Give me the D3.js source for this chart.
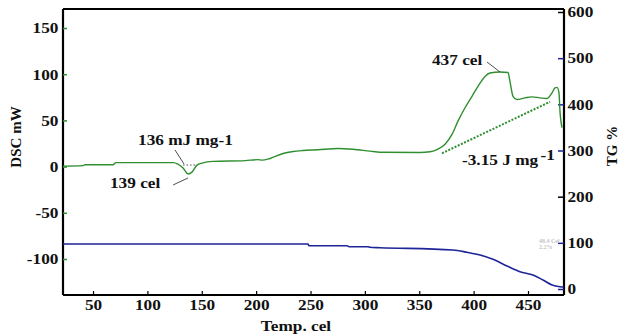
<!DOCTYPE html>
<html><head><meta charset="utf-8">
<script src="https://cdn.jsdelivr.net/npm/d3@7"></script>
<style>
html,body{margin:0;padding:0;background:#fff;}
svg{display:block;}
text{font-family:"Liberation Serif","Times New Roman",serif;font-weight:bold;fill:#111;}
</style></head>
<body><svg id="c" width="628" height="336"></svg>
<script>
// DSC curve (green): temperature (cel) and heat flow (mW)
const dscTemp = [22.4,40.8,42.6,68.4,71,123.6,128,132.8,137.4,141,145.6,150.2,160.3,190,201.7,205.4,212.8,224.7,233.9,243,256.9,275.3,289,304.7,313.9,350.7,359.9,367.2,373.7,380.1,385.6,392.1,398.5,404,410.5,415,424.3,431.6,433.4,436.2,439.9,447.2,453.7,461,467.5,472.1,474.8,476.7,478.5,479.4,481.3];
const dscVal  = [0.5,1,2,2,4.3,4.3,2.7,-1.6,-8,-6,1.6,3.8,5.6,6.5,7.5,7,8.8,14.2,16.3,17.4,18.3,19.6,18.8,16.7,15.6,15.3,16,18.8,24.2,34.9,49.2,63.7,76.1,86.9,97.6,101.3,102.4,101.9,92.3,76.1,72.6,74.4,75.5,74.4,73.7,79.8,85.2,85.8,79.8,60,42.2];
// TG curve (blue): temperature (cel) and mass (%)
const tgTemp = [22.4,247.7,248.6,283.6,285.4,302.9,304.7,313.9,381,393.9,405.9,417.8,430.7,442.6,454.6,463.8,472.1,479.4,483];
const tgVal  = [97.5,97.5,93.8,93.8,91.6,91.6,90.3,89.5,84.5,79.5,73.6,64.3,49.8,37.5,30.3,19.5,8.7,5,4.3];
// integration baseline of the exotherm
const baseTemp = [370.9,470.3];
const baseVal  = [14.4,70.2];
// tick labels
const xTicks  = [50,100,150,200,250,300,350,400,450];
const yLTicks = [-100,-50,0,50,100,150];
const yRTicks = [0,100,200,300,400,500,600];
const xTitle = "Temp. cel", yLTitle = "DSC mW", yRTitle = "TG %";

const svg = d3.select("#c");
const L=63, R=564, T=9, B=295;
const x  = d3.scaleLinear().domain([22.4,483.1]).range([L,R]);
const yL = d3.scaleLinear().domain([-139,170.6]).range([B,T]);
const yR = d3.scaleLinear().domain([-13,606.5]).range([B,T]);
const SX = 1.15;
const green="#2f8f2f", blue="#1e2598";

// frame top
svg.append("line").attr("x1",L).attr("x2",R).attr("y1",T).attr("y2",T).attr("stroke","#000").attr("stroke-width",2);

// axes
const gx = svg.append("g").attr("transform",`translate(0,${B})`)
  .call(d3.axisBottom(x).tickValues(xTicks).tickSizeInner(-4).tickSizeOuter(0).tickPadding(4).tickFormat(d=>String(d)));
const gl = svg.append("g").attr("transform",`translate(${L},0)`)
  .call(d3.axisLeft(yL).tickValues(yLTicks).tickSizeInner(-4).tickSizeOuter(0).tickPadding(4).tickFormat(d=>String(d)));
const gr = svg.append("g").attr("transform",`translate(${R},0)`)
  .call(d3.axisRight(yR).tickValues(yRTicks).tickSizeInner(-6).tickSizeOuter(0).tickPadding(3).tickFormat(d=>String(d)));
[gx,gl,gr].forEach(g=>{
  g.attr("font-family",null).attr("font-size",null);
  g.select(".domain").attr("stroke","#000").attr("stroke-width",2.2);
  g.selectAll("text").attr("font-size",15).attr("font-weight","bold")
    .attr("fill","#111").attr("transform",`scale(${SX},1)`);
});
gx.selectAll(".domain").attr("d",`M${L},0H${R}`);
gl.select(".domain").attr("d",`M0,${T}V${B}`);
gr.select(".domain").attr("d",`M0,${T}V${B}`);
gl.selectAll(".tick line").attr("stroke",green).attr("stroke-width",1.5);
gr.selectAll(".tick line").attr("stroke",d=>d===600||d===200?"#000":blue).attr("stroke-width",1.5);
gx.selectAll(".tick line").attr("stroke","#000").attr("stroke-width",1.2);

// curves
const dscData = dscTemp.map((t,i)=>[t,dscVal[i]]);
const tgData  = tgTemp.map((t,i)=>[t,tgVal[i]]);
const baseData = baseTemp.map((t,i)=>[t,baseVal[i]]);
svg.append("path").attr("d",d3.line().x(d=>x(d[0])).y(d=>yR(d[1])).curve(d3.curveMonotoneX)(tgData))
  .attr("fill","none").attr("stroke",blue).attr("stroke-width",1.6);
svg.append("path").attr("d",d3.line().x(d=>x(d[0])).y(d=>yL(d[1])).curve(d3.curveMonotoneX)(dscData))
  .attr("fill","none").attr("stroke",green).attr("stroke-width",1.4);
svg.append("path").attr("d",d3.line().x(d=>x(d[0])).y(d=>yL(d[1]))(baseData))
  .attr("fill","none").attr("stroke",green).attr("stroke-width",2).attr("stroke-dasharray","2,1.5");

// annotation leaders
const leaders = [
  {t:[412.3,424.3], v:[113.2,102.4], dash:null},
  {t:[125.4,133.7], v:[18,2.8], dash:null},
  {t:[132.8,145.6], v:[1.7,1.7], dash:"1.5,2"},
  {t:[123.6,137.4], v:[-19.9,-12.3], dash:null}
];
leaders.forEach(l=>{
  svg.append("line").attr("x1",x(l.t[0])).attr("y1",yL(l.v[0])).attr("x2",x(l.t[1])).attr("y2",yL(l.v[1]))
    .attr("stroke","#222").attr("stroke-width",0.8).attr("stroke-dasharray",l.dash);
});

// annotation texts
function label(t,v,str,sup){
  const tx = svg.append("text").attr("transform",`translate(${x(t)},${yL(v)}) scale(${SX},1)`).attr("font-size",15);
  tx.append("tspan").text(str);
  if(sup) tx.append("tspan").attr("dy",-5).attr("dx",2).text(sup);
}
label(361.7,110.5,"437 cel");
label(91.4,23.4,"136 mJ mg-1");
label(65.6,-22.8,"139 cel");
label(389.3,1.7,"-3.15 J mg","-1");

// faint instrument readout
svg.append("text").attr("x",x(460)).attr("y",yR(99)).attr("font-size",6).attr("font-weight","normal").style("fill","#c4c4c4").text("48.4 Cel");
svg.append("text").attr("x",x(460)).attr("y",yR(86)).attr("font-size",6).attr("font-weight","normal").style("fill","#c4c4c4").text("2.2%");

// axis titles
svg.append("text").attr("x",296).attr("y",331).attr("text-anchor","middle").attr("font-size",15)
  .attr("transform",`translate(${296*(1-SX)},0) scale(${SX},1)`).text(xTitle);
svg.append("text").attr("transform","translate(21,137) rotate(-90)").attr("text-anchor","middle").attr("font-size",15).text(yLTitle);
svg.append("text").attr("transform","translate(617,146) rotate(-90)").attr("text-anchor","middle").attr("font-size",15).text(yRTitle);
</script></body></html>
